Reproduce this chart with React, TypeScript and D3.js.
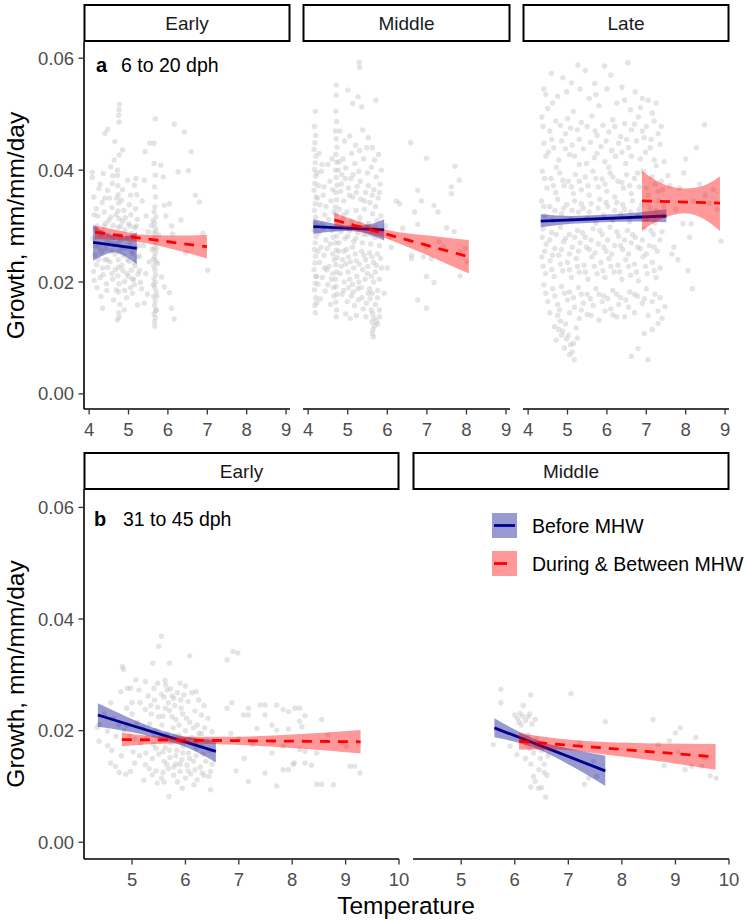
import React from 'react';
import * as d3 from 'd3';

// ---------- categories / ticks ----------
const topStages = ['Early', 'Middle', 'Late'];
const bottomStages = ['Early', 'Middle'];
const yTicks = [0, 0.02, 0.04, 0.06];
const xTicksTop = [4, 5, 6, 7, 8, 9];
const xTicksBottom = [5, 6, 7, 8, 9, 10];
const legendLabels = ['Before MHW', 'During & Between MHW'];
const rowLabels = [['a', '6 to 20 dph'], ['b', '31 to 45 dph']];
const yTitle = 'Growth, mm/mm/day';
const xTitle = 'Temperature';

// ---------- scatter points: [temperature, growth] ----------
const ptsTopEarly: [number, number][] = [
  [4.77,.0518],[4.76,.0508],[4.75,.0498],[4.76,.0486],[4.47,.0473],[4.40,.0466],[4.65,.0451],[4.85,.0436],[4.76,.0427],[4.64,.0418],[4.55,.0406],[4.08,.0396],[4.08,.0387],[4.36,.0394],[4.72,.0400],[4.72,.0391],[4.98,.0382],[5.15,.0373],[5.19,.0385],[5.40,.0382],[4.25,.0367],[4.47,.0364],[4.59,.0376],
  [5.68,.0492],[5.54,.0448],[5.65,.0448],[5.42,.0433],[5.65,.0412],[5.82,.0409],[5.88,.0388],
  [6.16,.0482],[6.42,.0468],[6.59,.0433],[6.26,.0397],[6.52,.0399],[6.70,.0355],[6.80,.0343],[5.91,.0337],[6.04,.0340],[6.33,.0311],[6.09,.0300],[5.95,.0318],[7.01,.0221],[6.89,.0287],[5.84,.0209],[5.91,.0191],[6.04,.0181],[6.09,.0153],[6.16,.0134],[5.23,.0159],[5.40,.0162],[6.12,.0286],[6.45,.0252],
  [4.72,.0132],[4.76,.0137],[4.89,.0150],[4.30,.0174],[4.34,.0153],[4.13,.0203],[4.75,.0145],[4.78,.0160],[4.62,.0168],[4.95,.0172],[5.10,.0180],[4.20,.0190],
  [4.12,.0352],[4.18,.0331],[4.22,.0318],[4.15,.0295],[4.10,.0278],[4.26,.0262],[4.14,.0248],[4.19,.0231],[4.11,.0219],[4.28,.0208],[4.33,.0342],[4.38,.0325],[4.42,.0305],[4.35,.0289],[4.45,.0271],[4.31,.0254],[4.40,.0240],[4.47,.0226],[4.36,.0213],[4.44,.0197],[4.52,.0350],[4.58,.0333],[4.55,.0316],[4.61,.0301],[4.50,.0284],[4.63,.0268],[4.57,.0255],[4.53,.0236],[4.66,.0222],[4.60,.0205],[4.69,.0186],
  [4.73,.0372],[4.74,.0356],[4.75,.0341],[4.73,.0327],[4.76,.0313],[4.74,.0298],[4.75,.0283],[4.73,.0269],[4.76,.0254],[4.74,.0240],[4.75,.0226],[4.73,.0211],[4.76,.0197],[4.74,.0182],
  [4.82,.0346],[4.88,.0328],[4.85,.0309],[4.91,.0293],[4.80,.0276],[4.94,.0261],[4.87,.0247],[4.83,.0230],[4.96,.0215],[4.90,.0201],[5.02,.0338],[5.06,.0320],[5.00,.0304],[5.09,.0287],[5.04,.0268],[5.11,.0251],[5.01,.0237],[5.07,.0221],[5.13,.0205],[5.05,.0190],[5.18,.0331],[5.22,.0312],[5.16,.0297],[5.25,.0278],[5.20,.0262],[5.28,.0246],[5.17,.0229],[5.24,.0214],[5.30,.0199],[5.21,.0356],
  [5.35,.0345],[5.45,.0318],[5.50,.0290],[5.38,.0265],[5.52,.0236],[5.44,.0215],[5.33,.0188],[5.48,.0178],
  [5.67,.0121],[5.66,.0129],[5.68,.0136],[5.65,.0143],[5.69,.0149],[5.66,.0158],[5.68,.0166],[5.64,.0174],[5.70,.0183],[5.66,.0191],[5.68,.0199],[5.65,.0206],[5.69,.0213],[5.67,.0222],[5.64,.0229],[5.70,.0237],[5.66,.0245],[5.68,.0252],[5.65,.0261],[5.69,.0270],[5.67,.0279],[5.64,.0288],[5.68,.0297],[5.66,.0306],[5.70,.0316],[5.65,.0325],[5.67,.0334],[5.69,.0352],[5.66,.0370],[5.68,.0391],[5.60,.0258],[5.74,.0233],[5.58,.0301],[5.76,.0284],
  [4.12,.0320],[4.16,.0265],[4.20,.0300],[4.24,.0240],[4.30,.0285],[4.34,.0225],[4.38,.0300],[4.42,.0260],[4.46,.0240],[4.50,.0310],[4.54,.0270],[4.58,.0215],[4.62,.0280],[4.66,.0250],[4.68,.0320],[4.80,.0300],[4.84,.0260],[4.86,.0220],[4.92,.0315],[4.96,.0280],[4.98,.0240],[5.04,.0300],[5.08,.0255],[5.12,.0280],[5.14,.0235],[5.20,.0300],[5.22,.0245],[5.26,.0265],[5.28,.0220],[4.90,.0185],[5.00,.0210],[5.15,.0195],[4.70,.0350],[4.85,.0365],[5.05,.0355],[4.40,.0350],[4.28,.0375],[4.60,.0390],[5.10,.0205],[4.45,.0185],
  [5.63,.0195],[5.71,.0260],[5.62,.0310],[5.72,.0175],[5.70,.0290],[5.63,.0240],[5.71,.0150],
];

const ptsTopMiddle: [number, number][] = [
  [4.18,.0505],[4.16,.0478],[4.19,.0462],[4.17,.0449],[4.15,.0437],[4.20,.0425],[4.18,.0413],[4.16,.0401],[4.19,.0389],[4.17,.0376],[4.15,.0364],[4.20,.0352],[4.18,.0340],[4.16,.0328],[4.19,.0316],[4.17,.0305],[4.15,.0293],[4.20,.0281],[4.18,.0270],[4.16,.0258],[4.19,.0246],[4.17,.0234],[4.15,.0222],[4.20,.0210],[4.18,.0198],[4.16,.0186],[4.19,.0172],[4.17,.0158],[4.18,.0145],[4.22,.0163],
  [4.28,.0430],[4.33,.0398],[4.26,.0372],[4.38,.0355],[4.30,.0338],[4.42,.0320],[4.35,.0302],[4.27,.0288],[4.45,.0275],[4.32,.0262],[4.40,.0248],[4.29,.0235],[4.47,.0222],[4.36,.0208],[4.25,.0196],[4.43,.0184],[4.31,.0170],[4.50,.0410],[4.55,.0380],[4.58,.0345],[4.52,.0312],[4.60,.0292],[4.56,.0268],[4.62,.0250],[4.53,.0228],[4.59,.0205],[4.64,.0190],[4.57,.0160],
  [4.71,.0552],[4.71,.0534],[4.70,.0505],[4.72,.0487],[4.69,.0470],[4.71,.0456],[4.73,.0441],[4.70,.0428],[4.72,.0414],[4.69,.0400],[4.71,.0387],[4.73,.0373],[4.70,.0360],[4.72,.0347],[4.69,.0334],[4.71,.0321],[4.73,.0308],[4.70,.0295],[4.72,.0282],[4.69,.0270],[4.71,.0257],[4.73,.0244],[4.70,.0231],[4.72,.0218],[4.69,.0205],[4.71,.0192],[4.73,.0178],[4.70,.0164],[4.72,.0150],[4.71,.0138],
  [5.00,.0543],[5.26,.0531],[5.13,.0519],[5.71,.0525],[5.35,.0513],[5.29,.0593],[5.30,.0584],
  [4.80,.0470],[4.92,.0452],[5.05,.0461],[5.20,.0445],[5.38,.0472],[5.52,.0458],[5.62,.0440],[5.78,.0428],
  [4.78,.0415],[4.85,.0392],[4.95,.0404],[5.08,.0385],[5.18,.0412],[5.28,.0398],[5.40,.0420],[5.50,.0395],[5.60,.0405],[5.72,.0388],[5.82,.0375],
  [4.82,.0362],[4.90,.0345],[5.02,.0368],[5.12,.0352],[5.24,.0371],[5.33,.0348],[5.45,.0360],[5.56,.0342],[5.66,.0365],[5.77,.0350],
  [4.79,.0330],[4.88,.0312],[4.98,.0325],[5.10,.0308],[5.21,.0328],[5.31,.0315],[5.42,.0330],[5.53,.0305],[5.63,.0322],[5.74,.0310],[5.84,.0318],
  [4.83,.0290],[4.93,.0278],[5.04,.0292],[5.15,.0272],[5.26,.0288],[5.37,.0270],[5.48,.0285],[5.58,.0268],[5.69,.0280],[5.80,.0265],
  [4.77,.0255],[4.87,.0240],[4.97,.0258],[5.07,.0236],[5.19,.0250],[5.29,.0232],[5.41,.0248],[5.51,.0228],[5.61,.0245],[5.72,.0230],[5.83,.0242],
  [4.81,.0215],[4.91,.0200],[5.01,.0218],[5.12,.0196],[5.23,.0210],[5.34,.0190],[5.44,.0205],[5.55,.0188],[5.65,.0200],[5.76,.0185],
  [4.86,.0178],[4.99,.0165],[5.09,.0175],[5.17,.0158],[5.27,.0168],[5.39,.0152],[5.47,.0162],[5.57,.0170],[5.70,.0160],[5.80,.0150],
  [4.95,.0143],[5.06,.0135],[5.22,.0140],[5.46,.0138],
  [5.60,.0150],[5.63,.0143],[5.66,.0135],[5.61,.0128],[5.68,.0122],[5.64,.0115],[5.62,.0108],[5.65,.0102],[5.72,.0130],[5.76,.0125],[5.80,.0138],
  [4.22,.0395],[4.24,.0350],[4.23,.0300],[4.25,.0255],[4.21,.0210],[4.35,.0410],[4.40,.0370],[4.45,.0335],[4.38,.0295],[4.48,.0260],[4.42,.0225],[4.50,.0195],[4.60,.0420],[4.62,.0365],[4.65,.0325],[4.63,.0280],[4.66,.0240],[4.62,.0215],[4.65,.0175],
  [4.76,.0400],[4.84,.0375],[4.94,.0385],[5.04,.0355],[5.14,.0392],[5.22,.0360],[5.32,.0380],[5.42,.0345],[5.52,.0372],[5.62,.0355],[5.70,.0335],[5.80,.0360],
  [4.80,.0300],[4.90,.0320],[5.00,.0282],[5.10,.0300],[5.20,.0278],[5.30,.0305],[5.40,.0285],[5.50,.0300],[5.60,.0285],[5.70,.0298],[5.82,.0290],
  [4.78,.0270],[4.90,.0255],[5.02,.0245],[5.12,.0262],[5.22,.0238],[5.35,.0255],[5.45,.0240],[5.55,.0252],[5.65,.0235],[5.75,.0250],[5.85,.0225],
  [4.84,.0228],[4.95,.0232],[5.05,.0205],[5.15,.0225],[5.28,.0200],[5.38,.0222],[5.50,.0215],[5.60,.0210],[5.70,.0218],[5.80,.0205],
  [4.90,.0185],[5.02,.0190],[5.14,.0182],[5.25,.0188],[5.36,.0172],[5.52,.0180],[5.62,.0180],[5.75,.0172],
  [4.88,.0420],[5.10,.0430],[5.30,.0435],[5.48,.0440],[5.68,.0418],[5.85,.0400],
  [6.59,.0449],[6.99,.0421],[7.71,.0407],[7.82,.0382],[7.62,.0370],[7.62,.0358],[6.77,.0364],[6.86,.0345],[7.18,.0337],[7.28,.0325],[6.69,.0325],[6.31,.0340],[6.23,.0345],[6.77,.0303],[7.50,.0297],[7.69,.0290],[6.39,.0296],[7.31,.0272],[7.41,.0263],[6.99,.0263],[6.61,.0248],[6.61,.0242],[6.91,.0245],[7.84,.0254],[7.97,.0260],[8.01,.0236],[7.11,.0242],[6.99,.0210],[7.18,.0199],[7.84,.0211],[6.77,.0168],[6.99,.0153],[6.08,.0281],[6.10,.0262],[5.95,.0300],[6.00,.0225],[5.92,.0180],
];

const ptsTopLate: [number, number][] = [
  [6.53,.0592],[5.26,.0588],[5.94,.0586],[4.59,.0573],[5.69,.0555],[4.88,.0565],[5.45,.0578],[6.10,.0570],[6.38,.0548],[5.10,.0556],[6.72,.0540],[4.40,.0545],[4.75,.0532],[5.55,.0528],[6.90,.0528],[7.05,.0525],[6.25,.0520],[5.80,.0515],[4.50,.0510],[5.15,.0505],[6.60,.0508],[7.15,.0502],
  [4.35,.0495],[4.70,.0488],[5.00,.0492],[5.35,.0485],[5.62,.0497],[5.90,.0480],[6.15,.0490],[6.45,.0483],[6.80,.0495],[7.00,.0478],[7.20,.0488],[4.55,.0470],[4.95,.0465],[5.25,.0472],[5.75,.0462],[6.05,.0468],[6.35,.0460],[6.62,.0472],[6.95,.0458],[7.30,.0465],[8.48,.0481],[8.27,.0440],
  [4.40,.0448],[4.65,.0440],[4.85,.0452],[5.12,.0445],[5.40,.0438],[5.58,.0450],[5.85,.0442],[6.12,.0435],[6.30,.0448],[6.55,.0440],[6.75,.0452],[7.10,.0440],[7.35,.0446],[4.45,.0425],[4.78,.0418],[5.05,.0428],[5.30,.0410],[5.68,.0422],[5.95,.0415],[6.22,.0425],[6.48,.0412],[6.85,.0420],[7.25,.0408],[7.45,.0415],[8.00,.0420],
  [4.36,.0398],[4.58,.0385],[4.80,.0395],[5.02,.0380],[5.20,.0392],[5.45,.0388],[5.65,.0398],[5.88,.0384],[6.08,.0395],[6.28,.0380],[6.50,.0392],[6.70,.0385],[6.92,.0398],[7.15,.0388],[7.38,.0380],[4.48,.0368],[4.70,.0360],[4.92,.0372],[5.15,.0358],[5.35,.0365],[5.55,.0355],[5.78,.0370],[6.00,.0362],[6.20,.0352],[6.42,.0368],[6.62,.0358],[6.82,.0370],[7.05,.0355],[7.30,.0362],[7.60,.0372],[7.85,.0368],
  [4.34,.0345],[4.55,.0335],[4.75,.0348],[4.98,.0338],[5.18,.0345],[5.40,.0332],[5.60,.0340],[5.82,.0348],[6.02,.0335],[6.25,.0342],[6.45,.0330],[6.65,.0345],[6.88,.0338],[7.10,.0332],[7.32,.0345],[4.42,.0318],[4.62,.0310],[4.85,.0322],[5.08,.0312],[5.28,.0325],[5.50,.0315],[5.72,.0305],[5.92,.0320],[6.15,.0310],[6.35,.0322],[6.58,.0308],[6.78,.0318],[7.00,.0312],[7.22,.0305],[7.42,.0318],[7.93,.0304],[8.14,.0304],[8.60,.0341],[8.20,.0345],
  [4.38,.0295],[4.60,.0288],[4.82,.0298],[5.05,.0285],[5.25,.0292],[5.45,.0280],[5.65,.0295],[5.88,.0285],[6.08,.0298],[6.30,.0282],[6.52,.0292],[6.72,.0280],[6.95,.0295],[7.18,.0285],[7.40,.0290],[4.46,.0268],[4.68,.0260],[4.90,.0272],[5.12,.0262],[5.32,.0270],[5.55,.0258],[5.78,.0268],[5.98,.0255],[6.20,.0265],[6.40,.0258],[6.62,.0270],[6.85,.0260],[7.08,.0265],[7.28,.0255],[8.90,.0273],[7.70,.0262],
  [4.35,.0245],[4.56,.0238],[4.78,.0248],[5.00,.0235],[5.22,.0242],[5.42,.0230],[5.62,.0245],[5.85,.0235],[6.05,.0242],[6.28,.0230],[6.48,.0240],[6.70,.0232],[6.92,.0245],[7.15,.0235],[7.35,.0225],[4.44,.0215],[4.66,.0210],[4.88,.0220],[5.10,.0208],[5.30,.0218],[5.52,.0205],[5.75,.0215],[5.95,.0208],[6.18,.0218],[6.38,.0205],[6.60,.0212],[6.80,.0202],[7.02,.0215],[7.25,.0208],[8.06,.0220],
  [4.40,.0195],[4.62,.0188],[4.85,.0192],[5.05,.0182],[5.28,.0190],[5.50,.0178],[5.72,.0188],[5.92,.0175],[6.15,.0185],[6.35,.0172],[6.58,.0182],[6.78,.0175],[7.00,.0188],[7.22,.0178],[4.50,.0165],[4.75,.0160],[5.00,.0168],[5.18,.0155],[5.40,.0162],[5.65,.0158],[5.88,.0165],[6.10,.0152],[6.30,.0160],[6.55,.0155],[6.90,.0162],[7.47,.0156],[8.17,.0188],
  [4.67,.0120],[4.71,.0096],[4.75,.0140],[4.82,.0130],[4.88,.0112],[4.95,.0125],[5.02,.0105],[5.08,.0088],[5.17,.0061],[5.12,.0075],[5.22,.0118],[4.92,.0082],[5.30,.0135],[5.50,.0142],[6.15,.0141],[6.62,.0067],[7.04,.0061],[6.79,.0081],[7.30,.0126],[6.45,.0138],[6.95,.0108],[7.15,.0115],[7.40,.0135],[5.80,.0132],
  [7.55,.0390],[7.75,.0330],[7.95,.0395],[8.35,.0375],[8.50,.0355],[8.70,.0365],[8.80,.0330],[7.65,.0250],[7.80,.0240],[8.10,.0280],
  [4.45,.0535],[4.62,.0520],[4.98,.0540],[5.32,.0545],[5.72,.0535],[6.00,.0545],[6.45,.0525],[6.85,.0512],[7.25,.0520],
  [4.38,.0478],[4.60,.0455],[4.82,.0480],[5.08,.0475],[5.30,.0455],[5.50,.0478],[5.70,.0470],[5.98,.0452],[6.20,.0478],[6.50,.0455],[6.70,.0482],[6.90,.0470],[7.12,.0455],[7.38,.0478],
  [4.52,.0432],[4.72,.0405],[4.95,.0438],[5.18,.0425],[5.48,.0412],[5.75,.0430],[6.05,.0405],[6.38,.0432],[6.62,.0425],[6.98,.0432],[7.20,.0418],
  [4.42,.0385],[4.64,.0372],[4.88,.0382],[5.10,.0370],[5.30,.0380],[5.52,.0372],[5.72,.0385],[5.95,.0375],[6.15,.0388],[6.38,.0378],[6.58,.0372],[6.78,.0395],[7.00,.0368],[7.22,.0375],[7.42,.0365],
  [4.40,.0335],[4.68,.0328],[4.90,.0332],[5.12,.0328],[5.35,.0340],[5.55,.0325],[5.78,.0332],[5.98,.0342],[6.20,.0328],[6.40,.0338],[6.60,.0325],[6.82,.0330],[7.05,.0340],[7.25,.0328],[7.45,.0335],
  [4.36,.0280],[4.55,.0275],[4.72,.0285],[4.95,.0278],[5.18,.0280],[5.38,.0288],[5.60,.0275],[5.82,.0292],[6.02,.0275],[6.25,.0290],[6.45,.0275],[6.65,.0285],[6.90,.0275],[7.12,.0292],[7.35,.0275],
  [4.42,.0255],[4.62,.0248],[4.85,.0258],[5.05,.0250],[5.28,.0255],[5.48,.0262],[5.70,.0252],[5.92,.0262],[6.12,.0250],[6.35,.0265],[6.55,.0250],[6.78,.0262],[7.00,.0250],[7.20,.0262],
  [4.38,.0228],[4.60,.0222],[4.82,.0232],[5.05,.0222],[5.25,.0228],[5.45,.0218],[5.68,.0228],[5.90,.0220],[6.10,.0228],[6.32,.0218],[6.55,.0228],[6.75,.0218],[6.98,.0228],[7.20,.0220],
  [4.45,.0180],[4.68,.0175],[4.92,.0180],[5.15,.0172],[5.35,.0178],[5.58,.0170],[5.80,.0178],[6.02,.0170],[6.25,.0178],[6.48,.0168],[6.70,.0178],[6.95,.0170],[7.15,.0165],[7.35,.0172],
  [4.55,.0145],[4.80,.0150],[5.05,.0145],[5.35,.0150],[5.60,.0140],[5.95,.0148],[6.25,.0138],[6.70,.0145],[7.05,.0140],[7.30,.0148],
  [4.78,.0115],[4.98,.0098],[5.15,.0090],[5.05,.0070],[4.85,.0105],[5.25,.0100],
];

const ptsBottomEarly: [number, number][] = [
  [5.55,.0369],[5.50,.0351],[5.39,.0321],[5.70,.0321],[6.08,.0334],[4.82,.0315],[4.84,.0310],[6.78,.0327],[6.89,.0342],[6.98,.0339],[5.07,.0291],
  [4.79,.0270],[4.91,.0276],[4.97,.0276],[5.13,.0273],[5.41,.0276],[5.63,.0282],[5.66,.0273],[5.78,.0258],[5.97,.0264],[5.91,.0255],[4.60,.0250],
  [6.78,.0240],[6.87,.0250],[7.18,.0240],[7.40,.0246],[7.49,.0246],[7.71,.0246],[7.83,.0238],[7.93,.0234],[8.05,.0240],[8.14,.0240],[8.24,.0227],[8.55,.0220],[7.09,.0228],[7.18,.0228],[7.49,.0228],
  [7.34,.0204],[7.62,.0210],[7.71,.0201],[7.93,.0203],[8.14,.0217],[8.18,.0207],[8.67,.0192],[8.92,.0178],[9.01,.0172],[7.83,.0172],[8.14,.0166],[8.24,.0163],[8.46,.0160],[7.62,.0160],[6.85,.0195],[7.00,.0185],[7.25,.0175],
  [8.04,.0142],[8.02,.0140],[8.24,.0142],[8.36,.0138],[7.83,.0130],[7.93,.0130],[7.49,.0124],[9.08,.0136],[9.17,.0136],[9.27,.0124],[7.18,.0109],[7.71,.0101],[8.46,.0104],[8.55,.0104],[8.77,.0103],[6.95,.0128],[7.10,.0150],
  [4.35,.0206],[4.38,.0211],[4.54,.0199],[4.38,.0181],[4.54,.0173],[4.60,.0142],[4.69,.0136],[4.76,.0125],[4.88,.0122],[4.97,.0127],[5.05,.0142],[5.25,.0139],[5.22,.0111],[5.38,.0121],[5.47,.0106],[5.60,.0108],[5.69,.0082],[5.94,.0097],[6.16,.0103],[6.47,.0094],[6.44,.0118],[6.31,.0124],[6.47,.0127],
  [5.30,.0262],[5.42,.0255],[5.55,.0265],[5.68,.0250],[5.80,.0245],[5.92,.0240],[6.05,.0252],[6.18,.0235],[6.30,.0228],[6.42,.0222],
  [5.25,.0238],[5.36,.0230],[5.48,.0242],[5.58,.0226],[5.70,.0236],[5.82,.0220],[5.95,.0230],[6.08,.0215],[6.22,.0210],[6.36,.0205],[6.50,.0198],
  [5.10,.0215],[5.20,.0205],[5.33,.0212],[5.45,.0200],[5.56,.0210],[5.66,.0195],[5.77,.0205],[5.88,.0192],[6.00,.0200],[6.12,.0188],[6.25,.0195],[6.40,.0182],
  [4.95,.0192],[5.05,.0185],[5.16,.0178],[5.28,.0188],[5.40,.0175],[5.52,.0182],[5.62,.0170],[5.73,.0178],[5.84,.0165],[5.96,.0172],[6.06,.0160],[6.20,.0168],[6.33,.0158],
  [5.02,.0162],[5.14,.0155],[5.26,.0160],[5.38,.0150],[5.50,.0158],[5.60,.0145],[5.71,.0152],[5.82,.0140],[5.93,.0148],[6.03,.0138],[6.15,.0145],[6.28,.0135],
  [5.32,.0132],[5.45,.0128],[5.58,.0125],[5.68,.0132],[5.78,.0120],[5.90,.0127],[6.00,.0115],[6.10,.0122],[6.22,.0112],[5.55,.0115],[5.85,.0108],
  [5.62,.0290],[5.72,.0275],[5.85,.0268],[6.00,.0280],[6.12,.0268],[5.48,.0285],[6.25,.0255],[6.35,.0245],
  [4.48,.0230],[4.65,.0222],[4.75,.0210],[4.85,.0200],[4.70,.0190],[4.90,.0240],[5.00,.0250],[4.62,.0165],[4.80,.0155],
  [5.35,.0245],[5.50,.0225],[5.62,.0240],[5.75,.0225],[5.88,.0210],[6.02,.0222],[6.15,.0205],[6.30,.0195],[5.40,.0195],[5.55,.0190],[5.68,.0185],[5.80,.0190],[5.92,.0180],[6.05,.0185],[6.18,.0178],[6.30,.0172],[6.45,.0165],[5.45,.0168],[5.58,.0162],[5.70,.0165],[5.82,.0155],[5.95,.0160],[6.08,.0150],[6.20,.0155],[6.38,.0145],[5.65,.0140],[5.78,.0135],[5.90,.0140],[6.05,.0128],[6.18,.0130],[6.35,.0120],[6.50,.0140],[5.60,.0260],[5.75,.0262],[5.90,.0285],[6.20,.0270],[5.25,.0288],[5.15,.0250],[5.00,.0230],[4.90,.0210],
];

const ptsBottomMiddle: [number, number][] = [
  [5.74,.0274],[5.74,.0250],[6.30,.0264],[7.05,.0266],[6.16,.0245],[7.69,.0216],[8.58,.0220],[9.09,.0205],[9.00,.0196],[8.89,.0182],[9.38,.0188],
  [6.00,.0228],[6.05,.0222],[6.10,.0231],[6.15,.0226],[6.20,.0218],[6.25,.0225],[6.32,.0212],[6.12,.0210],[6.38,.0220],[6.08,.0215],[6.28,.0230],
  [5.60,.0175],[5.91,.0172],[6.04,.0157],
  [6.16,.0184],[6.22,.0175],[6.28,.0168],[6.35,.0160],[6.42,.0172],[6.48,.0150],[6.55,.0140],[6.20,.0150],[6.30,.0140],[6.45,.0130],[6.50,.0165],[6.62,.0155],[6.25,.0192],[6.40,.0185],
  [6.35,.0118],[6.38,.0109],[6.30,.0099],[6.44,.0097],[6.50,.0098],[6.58,.0081],[6.55,.0125],[6.60,.0120],
  [7.21,.0179],[7.47,.0145],[7.53,.0118],[7.38,.0115],[7.30,.0104],
  [8.79,.0137],[9.18,.0130],[9.30,.0136],[9.49,.0136],[9.65,.0119],[9.76,.0115],[8.68,.0175],[9.05,.0162],[9.55,.0152],
];

// ---------- fitted lines [temp, growth] and confidence bands [temp, lower, upper] ----------
const lineTopEarlyBefore: [number, number][] = [[4.10,.0271],[5.21,.0260]];
const bandTopEarlyBefore: [number, number, number][] = [[4.10,.0238,.0302],[4.37,.0248,.0290],[4.64,.0253,.0283],[4.93,.0245,.0282],[5.21,.0232,.0289]];
const lineTopEarlyDuring: [number, number][] = [[4.15,.0289],[6.99,.0263]];
const bandTopEarlyDuring: [number, number, number][] = [[4.15,.0277,.0301],[4.70,.0275,.0293],[5.30,.0271,.0285],[6.10,.0259,.0283],[6.99,.0242,.0284]];

const lineTopMiddleBefore: [number, number][] = [[4.13,.0299],[5.92,.0293]];
const bandTopMiddleBefore: [number, number, number][] = [[4.13,.0286,.0312],[4.55,.0290,.0306],[5.00,.0291,.0301],[5.45,.0287,.0302],[5.92,.0274,.0312]];
const lineTopMiddleDuring: [number, number][] = [[4.66,.0311],[8.06,.0245]];
const bandTopMiddleDuring: [number, number, number][] = [[4.66,.0299,.0324],[5.20,.0292,.0310],[5.70,.0284,.0298],[6.50,.0263,.0287],[7.30,.0239,.0281],[8.06,.0215,.0275]];

const lineTopLateBefore: [number, number][] = [[4.32,.0309],[7.51,.0318]];
const bandTopLateBefore: [number, number, number][] = [[4.32,.0298,.0321],[5.10,.0304,.0318],[5.90,.0307,.0320],[6.70,.0308,.0324],[7.51,.0307,.0330]];
const lineTopLateDuring: [number, number][] = [[6.89,.0345],[8.87,.0341]];
const bandTopLateDuring: [number, number, number][] = [[6.89,.0292,.0399],[7.40,.0313,.0376],[7.98,.0323,.0367],[8.45,.0313,.0372],[8.87,.0291,.0389]];

const lineBottomEarlyBefore: [number, number][] = [[4.36,.0228],[6.57,.0163]];
const bandBottomEarlyBefore: [number, number, number][] = [[4.36,.0207,.0249],[4.90,.0199,.0225],[5.50,.0186,.0202],[6.00,.0171,.0189],[6.57,.0143,.0183]];
const lineBottomEarlyDuring: [number, number][] = [[4.81,.0184],[9.28,.0180]];
const bandBottomEarlyDuring: [number, number, number][] = [[4.81,.0172,.0196],[5.80,.0177,.0189],[6.80,.0175,.0189],[8.00,.0169,.0193],[9.28,.0159,.0201]];

const lineBottomMiddleBefore: [number, number][] = [[5.62,.0205],[7.69,.0128]];
const bandBottomMiddleBefore: [number, number, number][] = [[5.62,.0188,.0222],[6.00,.0180,.0202],[6.45,.0166,.0182],[7.05,.0137,.0167],[7.69,.0101,.0155]];
const lineBottomMiddleDuring: [number, number][] = [[6.08,.0181],[9.75,.0153]];
const bandBottomMiddleDuring: [number, number, number][] = [[6.08,.0166,.0196],[6.80,.0166,.0186],[7.60,.0158,.0180],[8.70,.0145,.0177],[9.75,.0130,.0176]];

// ---------- layout / styles ----------
const W = 749, H = 920;
const FONT = '"Liberation Sans", Arial, Helvetica, sans-serif';
const BLUE_LINE = '#00008B', BLUE_FILL = '#00008B';
const RED_LINE = '#FF0000', RED_FILL = '#FF0000';
const BAND_OPACITY = 0.4;

const topRow = { stripY: 5, stripH: 36, y0: 42, y1: 409, yDomain: [-0.0027, 0.0629], xDomain: [3.87, 9.10], cols: [[84, 290], [303, 510], [523, 729]] };
const botRow = { stripY: 453, stripH: 36, y0: 489, y1: 859, yDomain: [-0.003, 0.0633], xDomain: [4.1, 10.0], cols: [[84, 399], [413, 729]] };

type Fit = { line: [number, number][]; band: [number, number, number][] };
type PanelDef = { stage: string; cols: number[]; pts: [number, number][]; before: Fit; during: Fit };

const topPanels: PanelDef[] = [
  { stage: topStages[0], cols: topRow.cols[0], pts: ptsTopEarly, before: { line: lineTopEarlyBefore, band: bandTopEarlyBefore }, during: { line: lineTopEarlyDuring, band: bandTopEarlyDuring } },
  { stage: topStages[1], cols: topRow.cols[1], pts: ptsTopMiddle, before: { line: lineTopMiddleBefore, band: bandTopMiddleBefore }, during: { line: lineTopMiddleDuring, band: bandTopMiddleDuring } },
  { stage: topStages[2], cols: topRow.cols[2], pts: ptsTopLate, before: { line: lineTopLateBefore, band: bandTopLateBefore }, during: { line: lineTopLateDuring, band: bandTopLateDuring } },
];
const bottomPanels: PanelDef[] = [
  { stage: bottomStages[0], cols: botRow.cols[0], pts: ptsBottomEarly, before: { line: lineBottomEarlyBefore, band: bandBottomEarlyBefore }, during: { line: lineBottomEarlyDuring, band: bandBottomEarlyDuring } },
  { stage: bottomStages[1], cols: botRow.cols[1], pts: ptsBottomMiddle, before: { line: lineBottomMiddleBefore, band: bandBottomMiddleBefore }, during: { line: lineBottomMiddleDuring, band: bandBottomMiddleDuring } },
];

function Panel({ p, row, xTicks, first }: { p: PanelDef; row: any; xTicks: number[]; first: boolean }) {
  const x = d3.scaleLinear().domain(row.xDomain).range([p.cols[0], p.cols[1]]);
  const y = d3.scaleLinear().domain(row.yDomain).range([row.y1, row.y0]);
  const area = d3.area<[number, number, number]>().x(d => x(d[0])).y0(d => y(d[1])).y1(d => y(d[2])).curve(d3.curveMonotoneX);
  const line = d3.line<[number, number]>().x(d => x(d[0])).y(d => y(d[1]));
  const fmt = d3.format('.2f');
  const [xl, xr] = p.cols;
  return (
    <g>
      <rect x={xl + 0.5} y={row.stripY} width={xr - xl - 1} height={row.stripH} fill="#fff" stroke="#000" strokeWidth={2} />
      <text x={(xl + xr) / 2} y={row.stripY + row.stripH / 2} textAnchor="middle" dominantBaseline="central" fontSize={19} fill="#1A1A1A">{p.stage}</text>
      <g>
        {p.pts.map((d, i) => <circle key={i} cx={x(d[0])} cy={y(d[1])} r={2.7} fill="#BEBEBE" fillOpacity={0.42} />)}
      </g>
      <path d={area(p.before.band) || ''} fill={BLUE_FILL} fillOpacity={BAND_OPACITY} />
      <path d={line(p.before.line) || ''} fill="none" stroke={BLUE_LINE} strokeWidth={2.8} />
      <path d={area(p.during.band) || ''} fill={RED_FILL} fillOpacity={BAND_OPACITY} />
      <path d={line(p.during.line) || ''} fill="none" stroke={RED_LINE} strokeWidth={2.8} strokeDasharray="10,8" />
      <line x1={xl} x2={xr} y1={row.y1} y2={row.y1} stroke="#000" strokeWidth={1.6} />
      {xTicks.map(t => (
        <g key={t}>
          <line x1={x(t)} x2={x(t)} y1={row.y1} y2={row.y1 + 5.5} stroke="#333" strokeWidth={1.3} />
          <text x={x(t)} y={row.y1 + 20} textAnchor="middle" dominantBaseline="central" fontSize={18.5} fill="#4D4D4D">{t}</text>
        </g>
      ))}
      {first && (
        <g>
          <line x1={xl} x2={xl} y1={row.y0} y2={row.y1} stroke="#000" strokeWidth={1.6} />
          {yTicks.map(t => (
            <g key={t}>
              <line x1={xl - 5.5} x2={xl} y1={y(t)} y2={y(t)} stroke="#333" strokeWidth={1.3} />
              <text x={xl - 10} y={y(t)} textAnchor="end" dominantBaseline="central" fontSize={18.5} fill="#4D4D4D">{fmt(t)}</text>
            </g>
          ))}
        </g>
      )}
    </g>
  );
}

export default function App() {
  const lx = 492, ly = [513, 551], kw = 25, kh = 25;
  return (
    <svg width={W} height={H} viewBox={`0 0 ${W} ${H}`} style={{ position: 'absolute', left: 0, top: 0, background: '#fff', fontFamily: FONT }}>
      <rect x={0} y={0} width={W} height={H} fill="#fff" />
      {topPanels.map((p, i) => <Panel key={'t' + i} p={p} row={topRow} xTicks={xTicksTop} first={i === 0} />)}
      {bottomPanels.map((p, i) => <Panel key={'b' + i} p={p} row={botRow} xTicks={xTicksBottom} first={i === 0} />)}

      <text x={96} y={72} fontSize={20} fontWeight="bold" fill="#000">{rowLabels[0][0]}</text>
      <text x={121} y={72} fontSize={19.5} fill="#000">{rowLabels[0][1]}</text>
      <text x={94} y={526} fontSize={20} fontWeight="bold" fill="#000">{rowLabels[1][0]}</text>
      <text x={123} y={526} fontSize={19.5} fill="#000">{rowLabels[1][1]}</text>

      <text transform={`translate(15,${(topRow.y0 + topRow.y1) / 2}) rotate(-90)`} textAnchor="middle" dominantBaseline="central" fontSize={24.5} fill="#000">{yTitle}</text>
      <text transform={`translate(15,${(botRow.y0 + botRow.y1) / 2}) rotate(-90)`} textAnchor="middle" dominantBaseline="central" fontSize={24.5} fill="#000">{yTitle}</text>
      <text x={406} y={905} textAnchor="middle" dominantBaseline="central" fontSize={24.5} fill="#000">{xTitle}</text>

      <g>
        <rect x={lx} y={ly[0]} width={kw} height={kh} fill={BLUE_FILL} fillOpacity={BAND_OPACITY} />
        <line x1={lx + 2} x2={lx + kw - 2} y1={ly[0] + kh / 2} y2={ly[0] + kh / 2} stroke={BLUE_LINE} strokeWidth={2.8} />
        <text x={532} y={ly[0] + kh / 2} dominantBaseline="central" fontSize={19.5} fill="#000">{legendLabels[0]}</text>
        <rect x={lx} y={ly[1]} width={kw} height={kh} fill={RED_FILL} fillOpacity={BAND_OPACITY} />
        <line x1={lx + 2} x2={lx + 15} y1={ly[1] + kh / 2} y2={ly[1] + kh / 2} stroke={RED_LINE} strokeWidth={2.8} />
        <text x={532} y={ly[1] + kh / 2} dominantBaseline="central" fontSize={19.5} fill="#000">{legendLabels[1]}</text>
      </g>
    </svg>
  );
}
